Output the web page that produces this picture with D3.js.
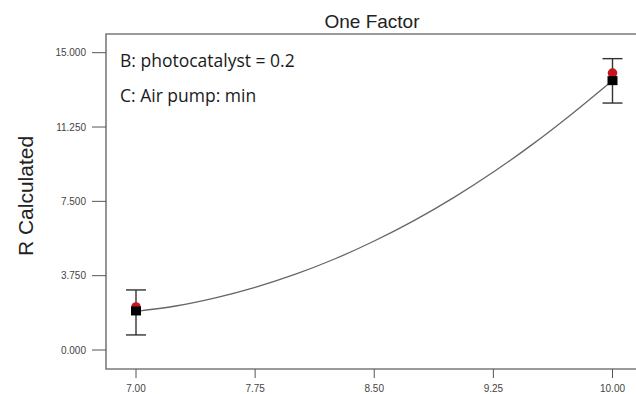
<!DOCTYPE html>
<html><head><meta charset="utf-8">
<script src="https://cdn.jsdelivr.net/npm/d3@7"></script>
<style>html,body{margin:0;padding:0;background:#fff;}svg{display:block;}</style>
</head><body><svg id="c" width="636" height="394"></svg>
<script>
// Data
const xTicks = [7.00, 7.75, 8.50, 9.25, 10.00];
const yTicks = [0.000, 3.750, 7.500, 11.250, 15.000];
// Fitted curve (estimated from the drawn line)
const curveX = [7.00, 7.25, 7.50, 7.75, 8.00, 8.25, 8.50, 8.75, 9.00, 9.25, 9.50, 9.75, 10.00];
const curveY = [1.95, 2.22, 2.63, 3.16, 3.81, 4.59, 5.50, 6.53, 7.69, 8.98, 10.40, 11.95, 13.60];
// Design points
const pointX = [7.00, 10.00];
const predicted = [1.97, 13.59];   // black squares
const actual = [2.17, 13.97];      // red circles
const ciLow = [0.76, 12.46];
const ciHigh = [3.03, 14.70];
const notes = ["B: photocatalyst = 0.2", "C: Air pump: min"];

const svg = d3.select("#c");
const x = d3.scaleLinear().domain([7, 10]).range([136, 612.5]);
const y = d3.scaleLinear().domain([0, 15]).range([350, 52.7]);
const frameL = 106, frameT = 34, frameB = 369, frameR = 660;

// frame
svg.append("path")
  .attr("d", `M${frameR},${frameT}H${frameL}V${frameB}H${frameR}`)
  .attr("fill", "none").attr("stroke", "#7a7a7a").attr("stroke-width", 1.6);

// y axis ticks
const yAxis = svg.append("g");
yTicks.forEach(v => {
  yAxis.append("line").attr("x1", 92).attr("x2", frameL).attr("y1", y(v)).attr("y2", y(v))
    .attr("stroke", "#555").attr("stroke-width", 1);
  yAxis.append("text").attr("x", 86).attr("y", y(v)).attr("dy", "0.35em")
    .attr("text-anchor", "end").attr("font-family", "Liberation Sans, Arial, sans-serif")
    .attr("font-size", 10).attr("fill", "#444").text(d3.format(".3f")(v));
});
// x axis ticks
const xAxis = svg.append("g");
xTicks.forEach(v => {
  xAxis.append("line").attr("x1", x(v)).attr("x2", x(v)).attr("y1", frameB).attr("y2", 378)
    .attr("stroke", "#555").attr("stroke-width", 1);
  xAxis.append("text").attr("x", x(v)).attr("y", 392)
    .attr("text-anchor", "middle").attr("font-family", "Liberation Sans, Arial, sans-serif")
    .attr("font-size", 10).attr("fill", "#444").text(d3.format(".2f")(v));
});

// title
svg.append("text").attr("x", 372).attr("y", 28).attr("text-anchor", "middle")
  .attr("font-family", "Liberation Sans, Arial, sans-serif").attr("font-size", 19).attr("fill", "#222")
  .text("One Factor");
// y label
svg.append("text").attr("transform", "translate(33,196) rotate(-90)").attr("text-anchor", "middle")
  .attr("font-family", "Liberation Sans, Arial, sans-serif").attr("font-size", 21).attr("fill", "#222")
  .text("R Calculated");

// notes
notes.forEach((t, i) => {
  svg.append("text").attr("x", 120).attr("y", 67 + i * 35)
    .attr("font-family", "Open Sans, Noto Sans, sans-serif").attr("font-size", 17.5).attr("fill", "#1a1a1a")
    .text(t);
});

// curve
const pts = curveX.map((v, i) => [v, curveY[i]]);
svg.append("path").datum(pts)
  .attr("d", d3.line().x(d => x(d[0])).y(d => y(d[1])).curve(d3.curveMonotoneX))
  .attr("fill", "none").attr("stroke", "#666").attr("stroke-width", 1.3);

// error bars
pointX.forEach((v, i) => {
  const g = svg.append("g").attr("stroke", "#333").attr("stroke-width", 1.4);
  g.append("line").attr("x1", x(v)).attr("x2", x(v)).attr("y1", y(ciLow[i])).attr("y2", y(ciHigh[i]));
  [ciLow[i], ciHigh[i]].forEach(c => {
    g.append("line").attr("x1", x(v) - 10).attr("x2", x(v) + 10).attr("y1", y(c)).attr("y2", y(c));
  });
});
// red circles
svg.selectAll("circle.act").data(pointX).enter().append("circle")
  .attr("cx", d => x(d)).attr("cy", (d, i) => y(actual[i])).attr("r", 4.8)
  .attr("fill", "#c8141e");
// black squares
svg.selectAll("rect.pred").data(pointX).enter().append("rect")
  .attr("x", d => x(d) - 5).attr("y", (d, i) => y(predicted[i]) - 4.5)
  .attr("width", 10).attr("height", 9).attr("fill", "#000");
</script></body></html>
